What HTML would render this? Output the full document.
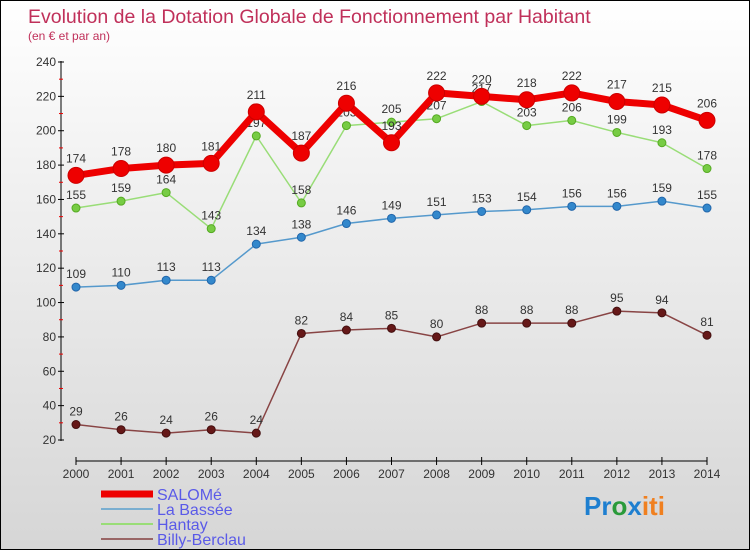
<!DOCTYPE html>
<html><head><meta charset="utf-8"><style>
body{margin:0}
#c{width:750px;height:550px;position:relative;overflow:hidden;box-sizing:border-box;border:1px solid #000;background:linear-gradient(#fff 0%,#f2f2f2 30%,#d6d6d6 100%);font-family:"Liberation Sans",sans-serif}
svg{position:absolute;left:0;top:0}
</style></head><body>
<div id="c">
<svg id="s" width="750" height="550">
<text x="27" y="22" font-size="19.5" fill="#c0305a">Evolution de la Dotation Globale de Fonctionnement par Habitant</text>
<text x="27" y="39" font-size="12" fill="#c0305a">(en € et par an)</text>
<g id="axes"></g><g id="series"></g>
<g>
<line x1="100" y1="493" x2="152" y2="493" stroke="#e00" stroke-width="7"/>
<text x="156" y="499" font-size="16" fill="#5a5ae8">SALOMé</text>
<line x1="100" y1="508" x2="152" y2="508" stroke="#7aaed0" stroke-width="2"/>
<text x="156" y="514" font-size="16" fill="#5a5ae8">La Bassée</text>
<line x1="100" y1="523" x2="152" y2="523" stroke="#99dd77" stroke-width="2"/>
<text x="156" y="529" font-size="16" fill="#5a5ae8">Hantay</text>
<line x1="100" y1="538" x2="152" y2="538" stroke="#996666" stroke-width="2"/>
<text x="156" y="544" font-size="16" fill="#5a5ae8">Billy-Berclau</text>
</g>
<text x="583" y="514" font-size="26" font-weight="bold"><tspan fill="#1e7fd0">Pr</tspan><tspan fill="#2a9a3a">o</tspan><tspan fill="#1e7fd0">x</tspan><tspan fill="#f08020">iti</tspan></text>
</svg>
</div>
<script>
const years=[2000,2001,2002,2003,2004,2005,2006,2007,2008,2009,2010,2011,2012,2013,2014];
const yTicks=[20,40,60,80,100,120,140,160,180,200,220,240];
const salome=[174,178,180,181,211,187,216,193,222,220,218,222,217,215,206];
const bassee=[109,110,113,113,134,138,146,149,151,153,154,156,156,159,155];
const hantay=[155,159,164,143,197,158,203,205,207,217,203,206,199,193,178];
const billy=[29,26,24,26,24,82,84,85,80,88,88,88,95,94,81];
const NS="http://www.w3.org/2000/svg";
const X=i=>75+i*(706-75)/14;
const Y=v=>439-(v-20)*(378/220);
function mk(t,a,p){const e=document.createElementNS(NS,t);for(const k in a)e.setAttribute(k,a[k]);p.appendChild(e);return e;}
const ax=document.getElementById('axes');
const yl=mk('line',{x1:60,y1:60,x2:60,y2:440,stroke:'#000'},ax);


const xl=mk('line',{x1:75,y1:460,x2:706,y2:460,stroke:'#000'},ax);


yTicks.forEach((v,i)=>{
 mk('line',{x1:57,y1:Y(v),x2:63,y2:Y(v),stroke:'#000'},ax);
 if(i<yTicks.length-1)mk('line',{x1:58,y1:Y(v+10),x2:62,y2:Y(v+10),stroke:'#e00'},ax);
 const t=mk('text',{x:55,y:Y(v)+4,'font-size':12,fill:'#333','text-anchor':'end'},ax);t.textContent=v;
 
 
});
years.forEach((y,i)=>{
 mk('line',{x1:X(i),y1:456,x2:X(i),y2:464,stroke:'#000'},ax);
 const t=mk('text',{x:X(i),y:477,'font-size':12,fill:'#333','text-anchor':'middle'},ax);t.textContent=y;
 
 
});
const sg=document.getElementById('series');
function series(d,name,col,lw,r,dot,dotStroke){
 const g=mk('g',{},sg);
 
 
 mk('polyline',{points:d.map((v,i)=>X(i)+','+Y(v)).join(' '),fill:'none',stroke:col,'stroke-width':lw,'stroke-linejoin':'round'},g);
 d.forEach((v,i)=>{
  const c=mk('circle',{cx:X(i),cy:Y(v),r:r,fill:dot,stroke:dotStroke,'stroke-width':1},g);
  
  
  const t=mk('text',{x:X(i),y:Y(v)-(r+5),'font-size':12,fill:'#333','text-anchor':'middle'},g);t.textContent=v;
  
  
 });
}
series(billy,'billy-berclau','#884444',1.5,4,'#661818','#441010');
series(bassee,'la-bassee','#5599cc',1.5,4,'#3388cc','#2266aa');
series(hantay,'hantay','#99dd77',1.5,4,'#77cc44','#55aa22');
series(salome,'salome','#ee0000',7,8,'#ee0000','#cc0000');
</script>
</body></html>
